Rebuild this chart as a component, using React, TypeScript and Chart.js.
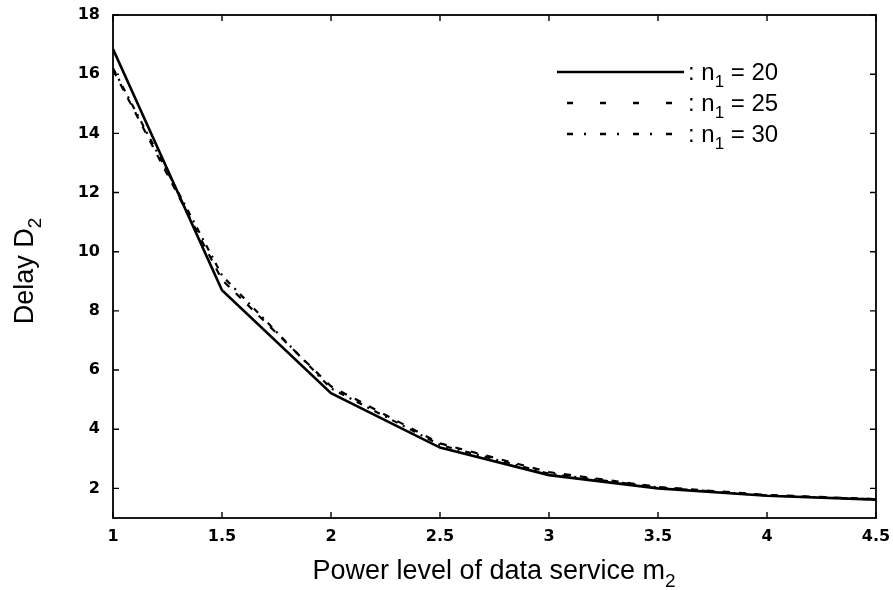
import React, { useEffect, useRef } from "react";
import { Chart, registerables } from "chart.js";

Chart.register(...registerables);

// Power level of the data service (m2) and the resulting delay D2
const POWER_LEVELS = [1, 1.5, 2, 2.5, 3, 3.5, 4, 4.5];
const DELAY_N20 = [16.85, 8.7, 5.22, 3.38, 2.45, 2.0, 1.75, 1.62];
const DELAY_N25 = [16.15, 9.05, 5.45, 3.52, 2.55, 2.05, 1.78, 1.64];
const DELAY_N30 = [16.2, 9.2, 5.38, 3.47, 2.5, 2.03, 1.76, 1.63];
const SERIES_N1 = ["20", "25", "30"];

const X_TICKS = [1, 1.5, 2, 2.5, 3, 3.5, 4, 4.5];
const Y_TICKS = [2, 4, 6, 8, 10, 12, 14, 16, 18];

const FONT = "'Liberation Sans', Arial, Helvetica, sans-serif";
const TICK_FONT = "'DejaVu Sans', 'Liberation Sans', sans-serif";

type Part = { text: string; sub?: boolean };

function partFont(size: number, sub?: boolean) {
  return `${sub ? Math.round(size * 0.7) : size}px ${FONT}`;
}

function measureParts(ctx: CanvasRenderingContext2D, parts: Part[], size: number) {
  let w = 0;
  for (const p of parts) {
    ctx.font = partFont(size, p.sub);
    w += ctx.measureText(p.text).width;
  }
  return w;
}

// Draws text with subscripts starting at (x, baseline)
function drawParts(ctx: CanvasRenderingContext2D, parts: Part[], size: number, x: number, y: number) {
  ctx.textAlign = "left";
  ctx.textBaseline = "alphabetic";
  let cx = x;
  for (const p of parts) {
    ctx.font = partFont(size, p.sub);
    ctx.fillText(p.text, cx, p.sub ? y + size * 0.28 : y);
    cx += ctx.measureText(p.text).width;
  }
}

const LINE_DASHES: number[][] = [[], [7, 9], [6, 6, 2, 6]];
const LEGEND_DASHES: number[][] = [[], [6, 27], [6, 11, 2, 14]];

const framePlugin = {
  id: "frameAndLabels",
  afterDraw(chart: any) {
    const ctx: CanvasRenderingContext2D = chart.ctx;
    const { left, right, top, bottom } = chart.chartArea;
    const xs = chart.scales.x;
    const ys = chart.scales.y;
    ctx.save();
    ctx.strokeStyle = "#000";
    ctx.fillStyle = "#000";

    // box around the plot
    ctx.lineWidth = 1.8;
    ctx.setLineDash([]);
    ctx.strokeRect(left, top, right - left, bottom - top);

    // inward tick marks on all four sides
    const tl = 6;
    ctx.lineWidth = 1.4;
    ctx.beginPath();
    for (const v of X_TICKS) {
      const px = xs.getPixelForValue(v);
      ctx.moveTo(px, bottom);
      ctx.lineTo(px, bottom - tl);
      ctx.moveTo(px, top);
      ctx.lineTo(px, top + tl);
    }
    for (const v of Y_TICKS) {
      const py = ys.getPixelForValue(v);
      ctx.moveTo(left, py);
      ctx.lineTo(left + tl, py);
      ctx.moveTo(right, py);
      ctx.lineTo(right - tl, py);
    }
    ctx.stroke();

    // axis titles
    const titleSize = 27;
    const xTitle: Part[] = [{ text: "Power level of data service m" }, { text: "2", sub: true }];
    const xw = measureParts(ctx, xTitle, titleSize);
    drawParts(ctx, xTitle, titleSize, 494 - xw / 2, 579);

    const yTitle: Part[] = [{ text: "Delay D" }, { text: "2", sub: true }];
    const yw = measureParts(ctx, yTitle, titleSize);
    ctx.save();
    ctx.translate(33, 271);
    ctx.rotate(-Math.PI / 2);
    drawParts(ctx, yTitle, titleSize, -yw / 2, 0);
    ctx.restore();

    // legend
    const legendSize = 24;
    const rows = [72, 103, 134];
    const lineStart = [557, 567, 567];
    const lineEnd = 684;
    rows.forEach((ry, i) => {
      ctx.lineWidth = 2.4;
      ctx.setLineDash(LEGEND_DASHES[i]);
      ctx.beginPath();
      ctx.moveTo(lineStart[i], ry);
      ctx.lineTo(i === 0 ? lineEnd : lineEnd - 6, ry);
      ctx.stroke();
      ctx.setLineDash([]);
      drawParts(
        ctx,
        [{ text: ": n" }, { text: "1", sub: true }, { text: " = " + SERIES_N1[i] }],
        legendSize,
        688,
        ry + 8
      );
    });
    ctx.restore();
  },
};

export default function App() {
  const canvasRef = useRef<HTMLCanvasElement | null>(null);

  useEffect(() => {
    document.body.style.margin = "0";
    const canvas = canvasRef.current;
    if (!canvas) return;
    const series = [DELAY_N20, DELAY_N25, DELAY_N30];
    const chart = new Chart(canvas, {
      type: "line",
      data: {
        datasets: series.map((vals, i) => ({
          label: "n1 = " + SERIES_N1[i],
          data: POWER_LEVELS.map((x, j) => ({ x, y: vals[j] })),
          borderColor: "#000",
          borderWidth: i === 0 ? 2.6 : 2.2,
          borderDash: LINE_DASHES[i],
          pointRadius: 0,
          tension: 0,
          fill: false,
        })),
      },
      options: {
        responsive: false,
        animation: false,
        devicePixelRatio: 1,
        layout: { padding: { left: 0, right: 17, top: 15, bottom: 0 } },
        plugins: {
          legend: { display: false },
          tooltip: { enabled: false },
          title: { display: false },
        },
        scales: {
          x: {
            type: "linear",
            min: 1,
            max: 4.5,
            grid: { display: false },
            border: { display: false },
            afterBuildTicks: (s: any) => {
              s.ticks = X_TICKS.map((v) => ({ value: v }));
            },
            afterFit: (s: any) => {
              s.height = 72;
            },
            ticks: {
              color: "#000",
              padding: 1,
              maxRotation: 0,
              autoSkip: false,
              font: { family: TICK_FONT, size: 16, weight: "bold" },
              callback: (v: any) => String(v),
            },
          },
          y: {
            type: "linear",
            min: 1,
            max: 18,
            grid: { display: false },
            border: { display: false },
            afterBuildTicks: (s: any) => {
              s.ticks = Y_TICKS.map((v) => ({ value: v }));
            },
            afterFit: (s: any) => {
              s.width = 113;
            },
            ticks: {
              color: "#000",
              padding: 5,
              autoSkip: false,
              font: { family: TICK_FONT, size: 16, weight: "bold" },
              callback: (v: any) => String(v),
            },
          },
        },
      },
      plugins: [framePlugin],
    } as any);
    return () => chart.destroy();
  }, []);

  return (
    <div style={{ width: 893, height: 590, background: "#fff" }}>
      <canvas ref={canvasRef} width={893} height={590} style={{ display: "block" }} />
    </div>
  );
}
